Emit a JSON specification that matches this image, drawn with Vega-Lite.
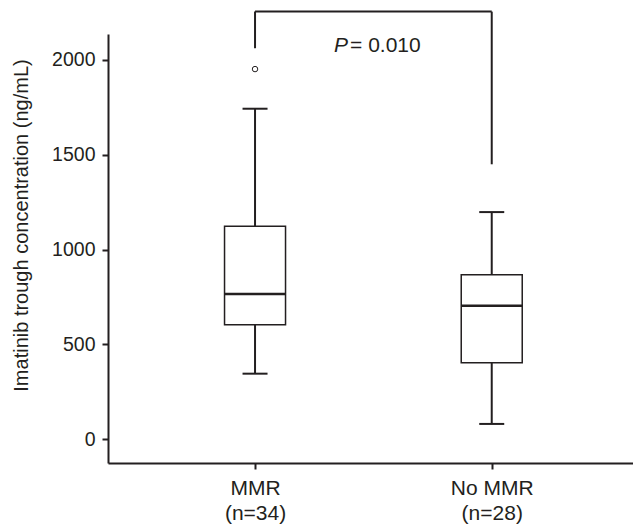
{
  "$schema": "https://vega.github.io/schema/vega-lite/v6.json",
  "autosize": "none",
  "width": 525,
  "height": 429,
  "padding": {"left": 108, "top": 34, "right": 0, "bottom": 64},
  "background": "white",
  "config": {
    "view": {"stroke": null},
    "font": "Liberation Sans",
    "axis": {
      "domainColor": "#231f20",
      "domainWidth": 2,
      "tickColor": "#231f20",
      "tickWidth": 2,
      "tickSize": 6,
      "labelColor": "#231f20",
      "titleColor": "#231f20",
      "labelFont": "Liberation Sans",
      "titleFont": "Liberation Sans",
      "grid": false
    }
  },
  "datasets": {
    "box": [
      {"group": "MMR", "lower": 346, "q1": 604, "median": 766, "q3": 1123, "upper": 1743},
      {"group": "No MMR", "lower": 81, "q1": 404, "median": 704, "q3": 868, "upper": 1198}
    ],
    "outliers": [{"group": "MMR", "value": 1952}],
    "bracket": [
      {"from": "MMR", "to": "No MMR", "y1": 2255, "y2": 2255},
      {"from": "MMR", "to": "MMR", "y1": 2062, "y2": 2255},
      {"from": "No MMR", "to": "No MMR", "y1": 1450, "y2": 2255}
    ],
    "ptext": [{"group": "MMR", "y": 2040, "p": "P", "rest": "= 0.010"}]
  },
  "encoding": {
    "x": {
      "field": "group",
      "type": "nominal",
      "scale": {"type": "point", "domain": ["MMR", "No MMR"], "padding": 0.609, "align": 0.51},
      "axis": {
        "title": null,
        "labelAngle": 0,
        "labelFontSize": 21,
        "labelLineHeight": 25,
        "labelPadding": 8,
        "labelExpr": "datum.value == 'MMR' ? ['MMR', '(n=34)'] : ['No MMR', '(n=28)']"
      }
    }
  },
  "layer": [
    {
      "data": {"name": "box"},
      "mark": {"type": "rule", "color": "#231f20", "strokeWidth": 2},
      "encoding": {
        "y": {
          "field": "lower",
          "type": "quantitative",
          "scale": {"domain": [-125, 2137], "nice": false, "zero": false},
          "axis": {
            "title": "Imatinib trough concentration (ng/mL)",
            "titleFontSize": 20,
            "titleFontWeight": "normal",
            "titlePadding": 20,
            "titleY": 191,
            "labelFontSize": 19.5,
            "labelPadding": 7,
            "format": "d",
            "values": [0, 500, 1000, 1500, 2000]
          }
        },
        "y2": {"field": "q1"}
      }
    },
    {
      "data": {"name": "box"},
      "mark": {"type": "rule", "color": "#231f20", "strokeWidth": 2},
      "encoding": {
        "y": {"field": "q3", "type": "quantitative"},
        "y2": {"field": "upper"}
      }
    },
    {
      "data": {"name": "box"},
      "mark": {"type": "bar", "size": 61, "fill": "white", "stroke": "#231f20", "strokeWidth": 1.5},
      "encoding": {
        "y": {"field": "q1", "type": "quantitative"},
        "y2": {"field": "q3"}
      }
    },
    {
      "data": {"name": "box"},
      "mark": {"type": "tick", "size": 61, "thickness": 2.5, "color": "#231f20", "opacity": 1},
      "encoding": {
        "y": {"field": "median", "type": "quantitative"}
      }
    },
    {
      "data": {"name": "box"},
      "mark": {"type": "tick", "size": 25, "thickness": 2, "color": "#231f20", "opacity": 1},
      "encoding": {
        "y": {"field": "upper", "type": "quantitative"}
      }
    },
    {
      "data": {"name": "box"},
      "mark": {"type": "tick", "size": 25, "thickness": 2, "color": "#231f20", "opacity": 1},
      "encoding": {
        "y": {"field": "lower", "type": "quantitative"}
      }
    },
    {
      "data": {"name": "outliers"},
      "mark": {"type": "point", "shape": "circle", "size": 30, "filled": false, "stroke": "#231f20", "strokeWidth": 1, "opacity": 1},
      "encoding": {
        "y": {"field": "value", "type": "quantitative"}
      }
    },
    {
      "data": {"name": "bracket"},
      "mark": {"type": "rule", "color": "#231f20", "strokeWidth": 2},
      "encoding": {
        "x": {"field": "from", "type": "nominal"},
        "x2": {"field": "to"},
        "y": {"field": "y1", "type": "quantitative"},
        "y2": {"field": "y2"}
      }
    },
    {
      "data": {"name": "ptext"},
      "mark": {"type": "text", "align": "right", "baseline": "alphabetic", "dx": 93, "fontSize": 21, "fontStyle": "italic", "color": "#231f20"},
      "encoding": {
        "y": {"field": "y", "type": "quantitative"},
        "text": {"field": "p"}
      }
    },
    {
      "data": {"name": "ptext"},
      "mark": {"type": "text", "align": "left", "baseline": "alphabetic", "dx": 95, "fontSize": 21, "color": "#231f20"},
      "encoding": {
        "y": {"field": "y", "type": "quantitative"},
        "text": {"field": "rest"}
      }
    }
  ]
}
